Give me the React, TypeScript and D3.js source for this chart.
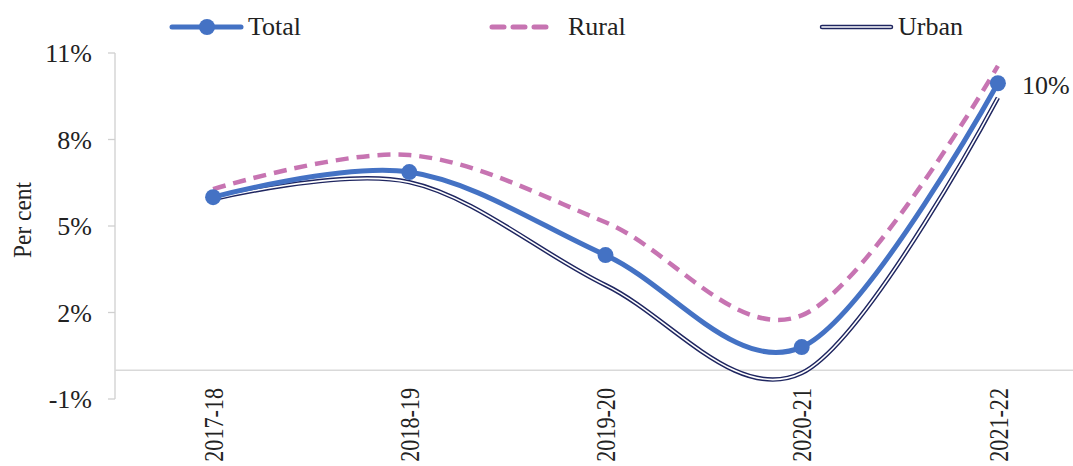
import React, { useEffect, useRef } from "react";
import * as d3 from "d3";

const categories = ["2017-18", "2018-19", "2019-20", "2020-21", "2021-22"];
const totalValues = [6.0, 6.87, 3.99, 0.8, 9.95];
const ruralValues = [6.28, 7.46, 5.13, 1.9, 10.55];
const urbanValues = [5.93, 6.52, 2.95, -0.1, 9.45];
const yTicks = [-1, 2, 5, 8, 11];

const W = 1073;
const H = 466;
const FONT = "'Liberation Serif', 'Times New Roman', serif";
const BLUE = "#4472C4";
const PINK = "#C774B2";
const NAVY = "#1F2660";
const TXT = "#222";

export default function App() {
  const ref = useRef<SVGSVGElement>(null);

  useEffect(() => {
    const svg = d3.select(ref.current);
    svg.selectAll("*").remove();

    const x = d3.scalePoint<string>().domain(categories).range([115, 1096]).padding(0.5);
    const y = d3.scaleLinear().domain([-1, 11]).range([399, 53]);

    // y axis line
    svg.append("line").attr("x1", 115).attr("x2", 115).attr("y1", y(11)).attr("y2", y(-1))
      .attr("stroke", "#d0d0d0").attr("stroke-width", 1.3);
    yTicks.forEach((t) => {
      svg.append("line").attr("x1", 108).attr("x2", 115).attr("y1", y(t)).attr("y2", y(t))
        .attr("stroke", "#d0d0d0").attr("stroke-width", 1.3);
      svg.append("text").attr("x", 92).attr("y", y(t)).attr("dy", "0.35em")
        .attr("text-anchor", "end").attr("font-family", FONT).attr("font-size", 26)
        .attr("fill", TXT).text(`${t}%`);
    });
    // zero line
    svg.append("line").attr("x1", 115).attr("x2", W).attr("y1", y(0)).attr("y2", y(0))
      .attr("stroke", "#d9d9d9").attr("stroke-width", 1.5);

    // y title
    svg.append("text").attr("transform", `translate(22,${220}) rotate(-90) scale(0.9,1)`)
      .attr("text-anchor", "middle").attr("dy", "0.35em").attr("font-family", FONT)
      .attr("font-size", 26).attr("fill", TXT).text("Per cent");

    // x labels
    categories.forEach((c) => {
      svg.append("text").attr("transform", `translate(${x(c)! + 0.5},${388}) rotate(-90) scale(0.82,1)`)
        .attr("text-anchor", "end").attr("dy", "0.34em").attr("font-family", FONT)
        .attr("font-size", 27).attr("fill", TXT).text(c);
    });

    const line = (vals: number[]) =>
      d3.line<number>().x((_, i) => x(categories[i])!).y((v) => y(v))
        .curve(d3.curveCardinal.tension(0))(vals) as string;

    // Urban double line
    svg.append("path").attr("d", line(urbanValues)).attr("fill", "none")
      .attr("stroke", NAVY).attr("stroke-width", 4.5);
    svg.append("path").attr("d", line(urbanValues)).attr("fill", "none")
      .attr("stroke", "#fff").attr("stroke-width", 1.6);

    // Rural dashed
    svg.append("path").attr("d", line(ruralValues)).attr("fill", "none")
      .attr("stroke", PINK).attr("stroke-width", 4.5).attr("stroke-dasharray", "13,8");

    // Total
    svg.append("path").attr("d", line(totalValues)).attr("fill", "none")
      .attr("stroke", BLUE).attr("stroke-width", 5).attr("stroke-linecap", "round");
    totalValues.forEach((v, i) => {
      svg.append("circle").attr("cx", x(categories[i])!).attr("cy", y(v)).attr("r", 8)
        .attr("fill", BLUE);
    });

    // data label
    const last = totalValues.length - 1;
    svg.append("text").attr("x", x(categories[last])! + 24).attr("y", y(totalValues[last]) + 2)
      .attr("dy", "0.35em").attr("font-family", FONT).attr("font-size", 26)
      .attr("fill", TXT).text("10%");

    // legend
    const ly = 27;
    const tb = 35;
    const lg = svg.append("g");
    lg.append("line").attr("x1", 172).attr("x2", 241).attr("y1", ly).attr("y2", ly)
      .attr("stroke", BLUE).attr("stroke-width", 5).attr("stroke-linecap", "round");
    lg.append("circle").attr("cx", 207).attr("cy", ly).attr("r", 8).attr("fill", BLUE);
    lg.append("text").attr("x", 248).attr("y", tb)
      .attr("font-family", FONT).attr("font-size", 26).attr("fill", TXT).text("Total");

    lg.append("line").attr("x1", 492).attr("x2", 555).attr("y1", ly).attr("y2", ly)
      .attr("stroke", PINK).attr("stroke-width", 5).attr("stroke-dasharray", "12,9")
      .attr("stroke-linecap", "round");
    lg.append("text").attr("x", 568).attr("y", tb)
      .attr("font-family", FONT).attr("font-size", 26).attr("fill", TXT).text("Rural");

    lg.append("line").attr("x1", 822).attr("x2", 891).attr("y1", ly).attr("y2", ly)
      .attr("stroke", NAVY).attr("stroke-width", 4.5).attr("stroke-linecap", "round");
    lg.append("line").attr("x1", 822).attr("x2", 891).attr("y1", ly).attr("y2", ly)
      .attr("stroke", "#fff").attr("stroke-width", 1.6).attr("stroke-linecap", "round");
    lg.append("text").attr("x", 898).attr("y", tb)
      .attr("font-family", FONT).attr("font-size", 26).attr("fill", TXT).text("Urban");
  }, []);

  return (
    <svg
      ref={ref}
      width={W}
      height={H}
      style={{ position: "absolute", left: 0, top: 0, background: "#fff" }}
    />
  );
}
